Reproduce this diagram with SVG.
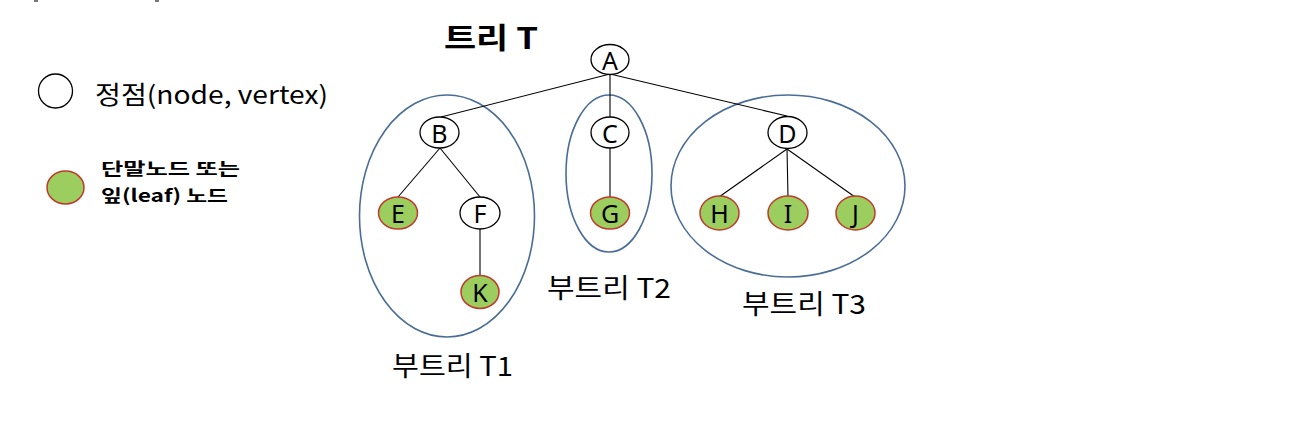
<svg xmlns="http://www.w3.org/2000/svg" width="1302" height="426" viewBox="0 0 1302 426">
<style>
.n{fill:#fff;stroke:#000;stroke-width:1.3}
.l{fill:#9ccd5f;stroke:#c0392b;stroke-width:1.5}
.g{fill:none;stroke:#4a6d98;stroke-width:1.6}
.e{stroke:#000;stroke-width:1.1;fill:none}
.t{font-family:"Noto Sans CJK KR","Noto Sans",sans-serif;fill:#000}
.nl{font-family:"Noto Sans","Noto Sans CJK KR",sans-serif;font-size:25px;text-anchor:middle;dominant-baseline:central}
</style>
<rect width="1302" height="426" fill="#fff"/>
<rect x="34" y="0" width="4" height="2" fill="#777"/>
<rect x="155" y="0" width="4" height="2" fill="#777"/>
<g id="groups">
<ellipse class="g" cx="447" cy="216" rx="87.5" ry="121"/>
<ellipse class="g" cx="609" cy="173.5" rx="43" ry="78.5"/>
<ellipse class="g" cx="788" cy="186" rx="117" ry="91"/>
</g>
<g id="connectors">
<line class="e" x1="610" y1="74" x2="441" y2="117"/>
<line class="e" x1="610" y1="74" x2="610" y2="117"/>
<line class="e" x1="610" y1="74" x2="787" y2="116"/>
<line class="e" x1="440" y1="148" x2="398" y2="197"/>
<line class="e" x1="440" y1="148" x2="480" y2="197"/>
<line class="e" x1="610" y1="148" x2="610" y2="197"/>
<line class="e" x1="480" y1="229" x2="480" y2="276"/>
<line class="e" x1="787" y1="149" x2="719" y2="197"/>
<line class="e" x1="787" y1="149" x2="788" y2="197"/>
<line class="e" x1="787" y1="149" x2="855" y2="197"/>
</g>
<g id="A"><ellipse class="n" cx="610" cy="59.5" rx="19" ry="15"/><text class="nl" x="610" y="59.5">A</text></g>
<g id="B"><ellipse class="n" cx="439.5" cy="132.5" rx="19.5" ry="15.5"/><text class="nl" x="439.5" y="132.5">B</text></g>
<g id="C"><ellipse class="n" cx="610" cy="132.5" rx="19" ry="15.5"/><text class="nl" x="610" y="132.5">C</text></g>
<g id="D"><ellipse class="n" cx="787.5" cy="132.5" rx="19.5" ry="16"/><text class="nl" x="787.5" y="132.5">D</text></g>
<g id="E"><ellipse class="l" cx="398" cy="213" rx="19.5" ry="16"/><text class="nl" x="398" y="213">E</text></g>
<g id="F"><ellipse class="n" cx="480" cy="213" rx="20" ry="16"/><text class="nl" x="480" y="213">F</text></g>
<g id="G"><ellipse class="l" cx="610" cy="213" rx="19.5" ry="16"/><text class="nl" x="610" y="213">G</text></g>
<g id="H"><ellipse class="l" cx="719.5" cy="213" rx="19.5" ry="17"/><text class="nl" x="719.5" y="213">H</text></g>
<g id="I"><ellipse class="l" cx="788" cy="213" rx="20" ry="17"/><text class="nl" x="788" y="213">I</text></g>
<g id="J"><ellipse class="l" cx="855.5" cy="213" rx="19.5" ry="17"/><text class="nl" x="855.5" y="213">J</text></g>
<g id="K"><ellipse class="l" cx="480" cy="292" rx="19" ry="16.5"/><text class="nl" x="480" y="292">K</text></g>
<g id="title"><text class="t" x="444" y="49" font-size="29" font-weight="bold" textLength="94" lengthAdjust="spacingAndGlyphs">트리 T</text></g>
<g id="legend">
<ellipse class="n" cx="55.5" cy="91" rx="17" ry="17"/>
<text class="t" x="95" y="104" font-size="25" textLength="233" lengthAdjust="spacingAndGlyphs">정점(node, vertex)</text>
<ellipse class="l" cx="65.5" cy="187.5" rx="18.5" ry="16.5"/>
<text class="t" x="101" y="175" font-size="17.5" font-weight="bold" textLength="139" lengthAdjust="spacingAndGlyphs">단말노드 또는</text>
<text class="t" x="101" y="202" font-size="17.5" font-weight="bold" textLength="127" lengthAdjust="spacingAndGlyphs">잎(leaf) 노드</text>
</g>
<g id="labels">
<text class="t" x="392" y="376" font-size="27" textLength="121" lengthAdjust="spacingAndGlyphs">부트리 T1</text>
<text class="t" x="547" y="298" font-size="27" textLength="124" lengthAdjust="spacingAndGlyphs">부트리 T2</text>
<text class="t" x="742" y="314" font-size="27" textLength="124" lengthAdjust="spacingAndGlyphs">부트리 T3</text>
</g>
</svg>
